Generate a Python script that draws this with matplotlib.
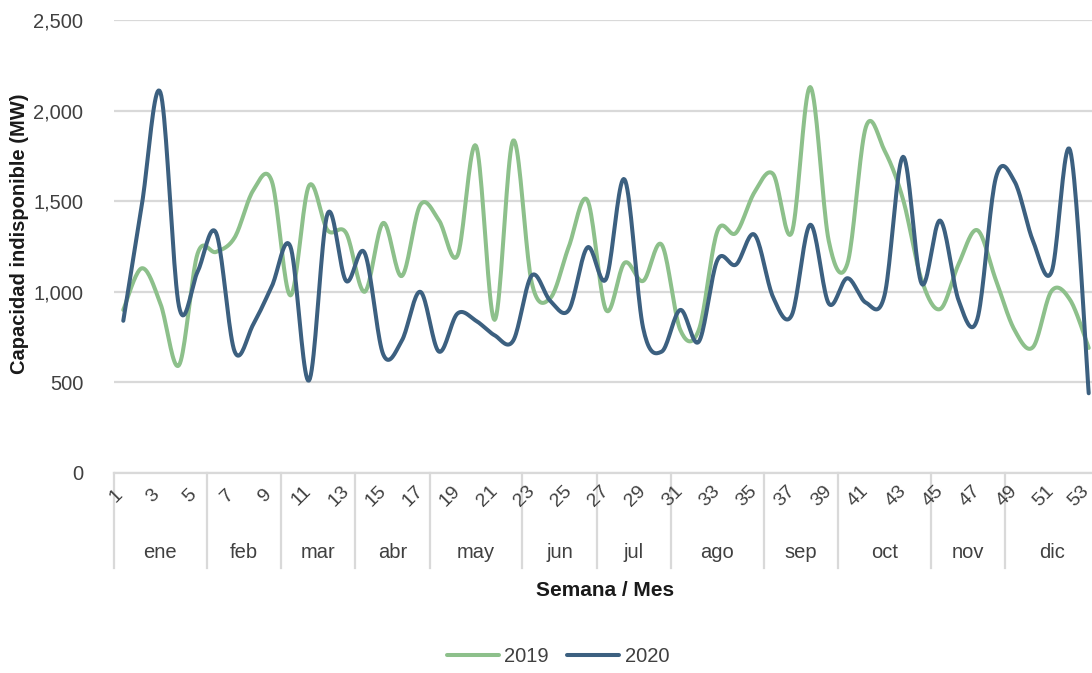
import numpy as np
import matplotlib
matplotlib.use('Agg')
import matplotlib.pyplot as plt
from matplotlib import font_manager
from matplotlib.lines import Line2D
from matplotlib.transforms import blended_transform_factory

names = {f.name for f in font_manager.fontManager.ttflist}
font = 'Liberation Sans Narrow' if 'Liberation Sans Narrow' in names else 'Liberation Sans'
plt.rcParams['font.family'] = [font, 'DejaVu Sans']

weeks = list(range(1, 54))
months = ['ene', 'feb', 'mar', 'abr', 'may', 'jun', 'jul', 'ago', 'sep', 'oct', 'nov', 'dic']
month_weeks = [5, 4, 4, 4, 5, 4, 4, 5, 4, 5, 4, 5]

v2019 = [900, 1130, 935, 595, 1210, 1220, 1300, 1560, 1610, 980,
         1585, 1340, 1325, 1000, 1380, 1087, 1480, 1395, 1200, 1805,
         845, 1835, 1050, 965, 1250, 1505, 900, 1160, 1060, 1260,
         790, 790, 1335, 1325, 1550, 1650, 1325, 2130, 1280, 1155,
         1910, 1780, 1510, 1065, 905, 1155, 1340, 1065, 790, 695,
         1005, 955, 690]
v2020 = [840, 1480, 2100, 920, 1110, 1325, 670, 820, 1030, 1250,
         510, 1430, 1060, 1215, 655, 730, 1000, 670, 880, 840,
         760, 730, 1090, 950, 900, 1245, 1070, 1620, 800, 670,
         900, 725, 1175, 1150, 1315, 970, 870, 1370, 935, 1075,
         940, 980, 1745, 1045, 1393, 950, 850, 1630, 1610, 1280,
         1110, 1780, 440]

c2019 = '#8dc08b'
c2020 = '#3c6080'
grid_c = '#d9d9d9'
txt_c = '#404040'

# narrow font in the original, so sizes are a bit smaller here
is_narrow = font.endswith('Narrow')
fs_tick = 17 if is_narrow else 14.5
fs_week = 16 if is_narrow else 14
fs_month = 16 if is_narrow else 14.5
fs_title = 17 if is_narrow else 15


def smooth(x, y, n=20):
    # bezier smoothing like excel "smoothed line"
    x = np.asarray(x, float)
    y = np.asarray(y, float)
    xp = np.concatenate([[x[0]], x, [x[-1]]])
    yp = np.concatenate([[y[0]], y, [y[-1]]])
    t = np.linspace(0, 1, n, endpoint=False)[:, None]
    xs, ys = [], []
    for i in range(len(x) - 1):
        p0 = np.array([x[i], y[i]])
        p3 = np.array([x[i + 1], y[i + 1]])
        p1 = p0 + (np.array([xp[i + 2], yp[i + 2]]) - np.array([xp[i], yp[i]])) / 6
        p2 = p3 - (np.array([xp[i + 3], yp[i + 3]]) - np.array([xp[i + 1], yp[i + 1]])) / 6
        pts = (1 - t) ** 3 * p0 + 3 * (1 - t) ** 2 * t * p1 + 3 * (1 - t) * t ** 2 * p2 + t ** 3 * p3
        xs.append(pts[:, 0])
        ys.append(pts[:, 1])
    xs.append([x[-1]])
    ys.append([y[-1]])
    return np.concatenate(xs), np.concatenate(ys)


W, H = 1092, 673
fig = plt.figure(figsize=(W / 100, H / 100), dpi=100)
ax = fig.add_axes([114 / W, 1 - 473 / H, 984 / W, 453 / H])

ax.plot(*smooth(weeks, v2019), color=c2019, lw=2.9, solid_capstyle='round', label='2019')
ax.plot(*smooth(weeks, v2020), color=c2020, lw=2.9, solid_capstyle='round', label='2020')

ax.set_xlim(0.5, 53.5)
ax.set_ylim(0, 2500)
ax.set_yticks(range(0, 2501, 500))
ax.set_yticklabels([f'{v:,}' for v in range(0, 2501, 500)], fontsize=fs_tick, color=txt_c)
ax.tick_params(axis='y', length=0, pad=22)
ax.set_xticks([])
ax.grid(axis='y', color=grid_c, lw=1.6)
ax.set_axisbelow(True)
for s in ax.spines.values():
    s.set_visible(False)

# multi-level category axis
tr = blended_transform_factory(ax.transData, fig.transFigure)
y_top = 1 - 473 / H
y_bot = 1 - 568 / H
fig.add_artist(Line2D([0.5, 53.5], [y_top, y_top], transform=tr, color=grid_c, lw=1.6))
edge = 0.5
fig.add_artist(Line2D([edge, edge], [y_top, y_bot], transform=tr, color=grid_c, lw=1.6))
for m, n in zip(months, month_weeks):
    fig.text(edge + n / 2, 1 - 553 / H, m, transform=tr, ha='center', va='center',
             fontsize=fs_month, color=txt_c)
    edge += n
    if edge < 53.5:
        fig.add_artist(Line2D([edge, edge], [y_top, y_bot], transform=tr, color=grid_c, lw=1.6))

for w in weeks[::2]:
    off = 0.55 if w == weeks[-1] else 0.4
    fig.text(w - off, 1 - 496 / H, str(w), transform=tr, ha='center', va='center',
             rotation=45, fontsize=fs_week, color=txt_c)

fig.text(605 / W, 1 - 590 / H, 'Semana / Mes', ha='center', va='center',
         fontsize=fs_title, fontweight='bold', color='#1a1a1a')
fig.text(20 / W, 1 - 234 / H, 'Capacidad indisponible (MW)', ha='center', va='center',
         rotation=90, fontsize=fs_title - 0.5, fontweight='bold', color='#1a1a1a')

fig.legend(loc='center', bbox_to_anchor=(558 / W, 1 - 657 / H), ncol=2, frameon=False,
           fontsize=fs_tick, handlelength=2.6, handletextpad=0.25, columnspacing=0.9,
           labelcolor=txt_c)

fig.savefig('out.png', dpi=100)
